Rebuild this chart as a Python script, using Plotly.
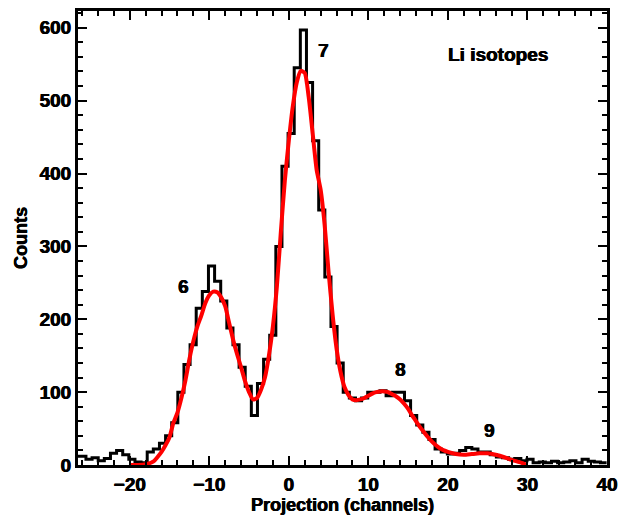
import numpy as np
import plotly.graph_objects as go

# Histogram: bin start (channels), bin width, counts per bin
bin_start = -27.04
bin_width = 0.77
counts = [12, 12, 8, 10, 6, 9, 16, 20, 14, 8, 4, 3, 18, 22, 30, 40, 58, 100, 138, 165,
          215, 238, 273, 252, 225, 188, 165, 134, 108, 68, 112, 145, 178, 300, 410, 455,
          545, 597, 525, 445, 350, 258, 190, 140, 100, 92, 88, 92, 100, 100, 102, 95, 100,
          100, 88, 68, 55, 45, 35, 22, 18, 15, 16, 20, 24, 22, 18, 18, 14, 11, 10, 8, 9,
          6, 8, 3, 4, 3, 5, 3, 4, 6, 3, 8, 5, 4, 3]

# Fit curve (red)
fit_x = [-20, -19, -18, -17, -16.5, -16, -15.5, -15, -14.5, -14, -13.5, -13, -12.5, -12,
         -11.5, -11, -10.5, -10, -9.5, -9, -8.5, -8, -7.5, -7, -6.5, -6, -5.5, -5, -4.5,
         -4, -3.5, -3, -2.5, -2, -1.5, -1, -0.5, 0, 0.5, 1, 1.5, 2, 2.5, 3, 3.5, 4, 4.5,
         5, 5.5, 6, 6.5, 7, 7.5, 8, 8.5, 9, 9.5, 10, 10.5, 11, 11.5, 12, 12.5, 13, 13.5,
         14, 14.5, 15, 15.5, 16, 16.5, 17, 17.5, 18, 18.5, 19, 19.5, 20, 21, 22, 23, 24,
         25, 26, 27, 28, 29, 29.5, 30]
fit_y = [0, 0, 1, 5, 11, 18, 27, 38, 58, 72, 92, 116, 145, 170,
         190, 205, 222, 233, 238, 237, 230, 218, 195, 172, 152, 134, 115, 100, 90,
         92, 103, 120, 150, 190, 245, 320, 390, 445, 492, 525, 541, 538, 505, 455, 405, 378, 330,
         265, 207, 160, 128, 107, 96, 90, 89, 90, 92, 95, 98, 100, 101, 101, 100, 97, 94,
         90, 84, 77, 68, 60, 52, 45, 38, 32, 27, 23, 20, 18, 15, 14, 15, 16,
         16, 14, 11, 7, 4, 2, 0]

# Peak labels
peak_labels = ["6", "7", "8", "9"]
peak_x = [-13.2, 4.4, 14.0, 25.2]
peak_y = [245, 569, 131, 48]

edges = bin_start + bin_width * np.arange(len(counts) + 1)
hist_y = list(counts) + [counts[-1]]

FAM = "Liberation Sans, Arial, sans-serif"
SHADOW = "0.5px 0px 0px black, -0.3px 0px 0px black"

fig = go.Figure()
fig.add_trace(go.Scatter(x=edges, y=hist_y, mode="lines", line=dict(color="black", width=3, shape="hv"),
                         showlegend=False, hoverinfo="skip"))
fig.add_trace(go.Scatter(x=fit_x, y=fit_y, mode="lines", line=dict(color="#ff0000", width=4, shape="spline", smoothing=0.6),
                         showlegend=False))

font_b = dict(family=FAM, size=19, color="black", weight="bold", shadow=SHADOW)
for t, x, y in zip(peak_labels, peak_x, peak_y):
    fig.add_annotation(x=x, y=y, text=t, showarrow=False, font=font_b)
fig.add_annotation(x=26.3, y=563, text="Li isotopes", showarrow=False, font=font_b)

axis_common = dict(showline=True, linecolor="black", linewidth=3, mirror="allticks",
                   ticks="inside", ticklen=9, tickwidth=2, tickcolor="black",
                   showgrid=False, zeroline=False,
                   tickfont=dict(family=FAM, size=19, color="black", weight="bold", shadow=SHADOW))

title_font = dict(family=FAM, size=18, color="black", weight="bold", shadow=SHADOW)

fig.update_xaxes(range=[-26.5, 40], dtick=10, tick0=0,
                 minor=dict(dtick=2, ticklen=5, tickwidth=2, tickcolor="black", ticks="inside"),
                 title=dict(text="Projection (channels)", standoff=0, font=title_font),
                 **axis_common)
fig.update_yaxes(range=[0, 623], dtick=100, tick0=0,
                 minor=dict(dtick=20, ticklen=5, tickwidth=2, tickcolor="black", ticks="inside"),
                 title=dict(text="Counts", standoff=8, font=title_font),
                 **axis_common)

fig.update_layout(width=635, height=515, margin=dict(l=78, r=28, t=8, b=49),
                  plot_bgcolor="white", paper_bgcolor="white", showlegend=False)

fig.write_html("out.html")
